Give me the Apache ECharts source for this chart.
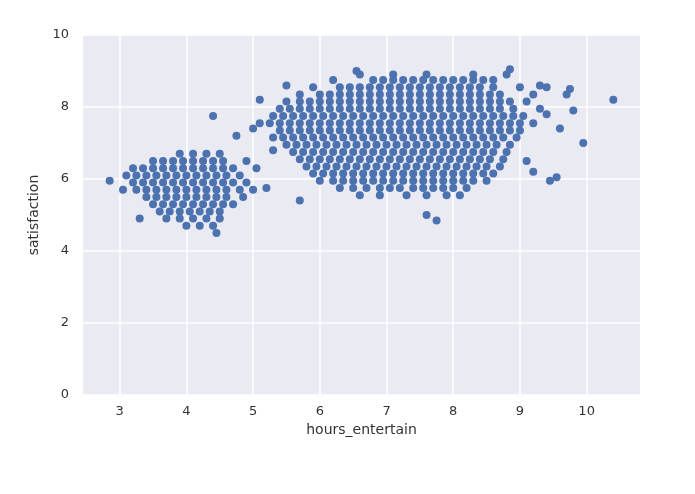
<!DOCTYPE html>
<html>
<head>
<meta charset="UTF-8">
<script src="https://cdn.jsdelivr.net/npm/echarts@6/dist/echarts.min.js"></script>
</head>
<body style="margin:0;background:#fff">
<div id="main" style="width:695px;height:494px;"></div>
<script>
// tick labels
var xTicks = [3, 4, 5, 6, 7, 8, 9, 10];
var yTicks = [0, 2, 4, 6, 8, 10];

// main cluster, rows: [satisfaction, [hours_entertain ...]]
var mainRows = [
  [8.9, [6.6, 7.1, 7.6, 8.3, 8.8]],
  [8.75, [6.2, 6.8, 6.95, 7.1, 7.25, 7.4, 7.55, 7.7, 7.85, 8.0, 8.15, 8.3, 8.45, 8.6]],
  [8.55, [5.9, 6.3, 6.45, 6.6, 6.75, 6.9, 7.05, 7.2, 7.35, 7.5, 7.65, 7.8, 7.95, 8.1, 8.25, 8.4, 8.6, 9.0, 9.4]],
  [8.35, [5.7, 6.0, 6.15, 6.3, 6.45, 6.6, 6.75, 6.9, 7.05, 7.2, 7.35, 7.5, 7.65, 7.8, 7.95, 8.1, 8.25, 8.4, 8.55, 8.7, 9.2, 9.7]],
  [8.15, [5.5, 5.7, 5.85, 6.0, 6.15, 6.3, 6.45, 6.6, 6.75, 6.9, 7.05, 7.2, 7.35, 7.5, 7.65, 7.8, 7.95, 8.1, 8.25, 8.4, 8.55, 8.7, 8.85, 9.1]],
  [7.95, [5.4, 5.55, 5.7, 5.85, 6.0, 6.15, 6.3, 6.45, 6.6, 6.75, 6.9, 7.05, 7.2, 7.35, 7.5, 7.65, 7.8, 7.95, 8.1, 8.25, 8.4, 8.55, 8.7, 8.9, 9.3]],
  [7.75, [5.3, 5.45, 5.6, 5.75, 5.9, 6.05, 6.2, 6.35, 6.5, 6.65, 6.8, 6.95, 7.1, 7.25, 7.4, 7.55, 7.7, 7.85, 8.0, 8.15, 8.3, 8.45, 8.6, 8.75, 8.9, 9.05]],
  [7.55, [5.1, 5.25, 5.4, 5.55, 5.7, 5.85, 6.0, 6.15, 6.3, 6.45, 6.6, 6.75, 6.9, 7.05, 7.2, 7.35, 7.5, 7.65, 7.8, 7.95, 8.1, 8.25, 8.4, 8.55, 8.7, 8.85, 9.0, 9.2]],
  [7.35, [5.4, 5.55, 5.7, 5.85, 6.0, 6.15, 6.3, 6.45, 6.6, 6.75, 6.9, 7.05, 7.2, 7.35, 7.5, 7.65, 7.8, 7.95, 8.1, 8.25, 8.4, 8.55, 8.7, 8.85, 9.0]],
  [7.15, [5.3, 5.45, 5.6, 5.75, 5.9, 6.05, 6.2, 6.35, 6.5, 6.65, 6.8, 6.95, 7.1, 7.25, 7.4, 7.55, 7.7, 7.85, 8.0, 8.15, 8.3, 8.45, 8.6, 8.75, 8.95]],
  [6.95, [5.5, 5.65, 5.8, 5.95, 6.1, 6.25, 6.4, 6.55, 6.7, 6.85, 7.0, 7.15, 7.3, 7.45, 7.6, 7.75, 7.9, 8.05, 8.2, 8.35, 8.5, 8.65, 8.85]],
  [6.75, [5.6, 5.75, 5.9, 6.05, 6.2, 6.35, 6.5, 6.65, 6.8, 6.95, 7.1, 7.25, 7.4, 7.55, 7.7, 7.85, 8.0, 8.15, 8.3, 8.45, 8.6, 8.8]],
  [6.55, [5.7, 5.85, 6.0, 6.15, 6.3, 6.45, 6.6, 6.75, 6.9, 7.05, 7.2, 7.35, 7.5, 7.65, 7.8, 7.95, 8.1, 8.25, 8.4, 8.55, 8.75]],
  [6.35, [5.8, 5.95, 6.1, 6.25, 6.4, 6.55, 6.7, 6.85, 7.0, 7.15, 7.3, 7.45, 7.6, 7.75, 7.9, 8.05, 8.2, 8.35, 8.5, 8.7]],
  [6.15, [5.9, 6.05, 6.2, 6.35, 6.5, 6.65, 6.8, 6.95, 7.1, 7.25, 7.4, 7.55, 7.7, 7.85, 8.0, 8.15, 8.3, 8.45, 8.6]],
  [5.95, [6.0, 6.2, 6.35, 6.5, 6.65, 6.8, 6.95, 7.1, 7.25, 7.4, 7.55, 7.7, 7.85, 8.0, 8.15, 8.3, 8.5]],
  [5.75, [6.3, 6.5, 6.7, 6.9, 7.05, 7.2, 7.4, 7.55, 7.7, 7.85, 8.0, 8.2]],
  [5.55, [6.6, 6.9, 7.3, 7.6, 7.9, 8.1]]
];

// small cluster
var smallRows = [
  [6.7, [3.9, 4.1, 4.3, 4.5]],
  [6.5, [3.5, 3.65, 3.8, 3.95, 4.1, 4.25, 4.4, 4.55]],
  [6.3, [3.2, 3.35, 3.5, 3.65, 3.8, 3.95, 4.1, 4.25, 4.4, 4.55, 4.7]],
  [6.1, [3.1, 3.25, 3.4, 3.55, 3.7, 3.85, 4.0, 4.15, 4.3, 4.45, 4.6, 4.8]],
  [5.9, [3.2, 3.35, 3.5, 3.65, 3.8, 3.95, 4.1, 4.25, 4.4, 4.55, 4.7, 4.9]],
  [5.7, [3.25, 3.4, 3.55, 3.7, 3.85, 4.0, 4.15, 4.3, 4.45, 4.6, 4.8]],
  [5.5, [3.4, 3.55, 3.7, 3.85, 4.0, 4.15, 4.3, 4.45, 4.6, 4.85]],
  [5.3, [3.5, 3.65, 3.8, 3.95, 4.1, 4.25, 4.4, 4.55, 4.7]],
  [5.1, [3.6, 3.75, 3.9, 4.05, 4.2, 4.35, 4.5]],
  [4.9, [3.7, 3.9, 4.1, 4.3, 4.5]],
  [4.7, [4.0, 4.2, 4.4]]
];

// scattered points around the clusters
var outliers = [
  [2.85, 5.95], [3.05, 5.7], [3.3, 4.9], [4.4, 7.75], [4.75, 7.2], [4.9, 6.5],
  [5.05, 6.3], [5.0, 5.7], [5.2, 5.75], [10.4, 8.2], [9.95, 7.0], [9.75, 8.5],
  [9.8, 7.9], [9.55, 6.05], [9.45, 5.95], [9.3, 8.6], [9.1, 6.5], [9.2, 6.2],
  [5.1, 8.2], [5.5, 8.6], [5.0, 7.4], [5.3, 6.8], [5.7, 5.4], [7.75, 4.85],
  [7.6, 5.0], [9.6, 7.4], [9.4, 7.8], [8.85, 9.05], [6.55, 9.0], [4.45, 4.5]
];

var points = outliers.slice();
mainRows.concat(smallRows).forEach(function (r) {
  r[1].forEach(function (x) { points.push([x, r[0]]); });
});

var chart = echarts.init(document.getElementById('main'));
var labelStyle = { color: '#333', fontSize: 13, fontFamily: 'DejaVu Sans' };
chart.setOption({
  animation: false,
  grid: { left: 83, right: 55, top: 35, bottom: 99, backgroundColor: '#EAEAF2', show: true, borderWidth: 0 },
  xAxis: {
    type: 'value', min: 2.45, max: 10.8,
    name: 'hours_entertain', nameLocation: 'middle', nameGap: 24,
    nameTextStyle: { color: '#333', fontSize: 14, fontFamily: 'DejaVu Sans' },
    axisLine: { show: false },
    axisTick: { show: false, customValues: xTicks },
    axisLabel: Object.assign({ customValues: xTicks, margin: 10 }, labelStyle),
    splitLine: { lineStyle: { color: '#fff', width: 1.5 } }
  },
  yAxis: {
    type: 'value', min: 0, max: 10, interval: 2,
    name: 'satisfaction', nameLocation: 'middle', nameGap: 34,
    nameTextStyle: { color: '#333', fontSize: 14, fontFamily: 'DejaVu Sans' },
    axisLine: { show: false },
    axisTick: { show: false },
    axisLabel: Object.assign({ margin: 14 }, labelStyle),
    splitLine: { lineStyle: { color: '#fff', width: 1.5 } }
  },
  series: [{
    type: 'scatter',
    data: points,
    symbolSize: 8,
    itemStyle: { color: '#4C72B0', opacity: 1 }
  }]
});
</script>
</body>
</html>
